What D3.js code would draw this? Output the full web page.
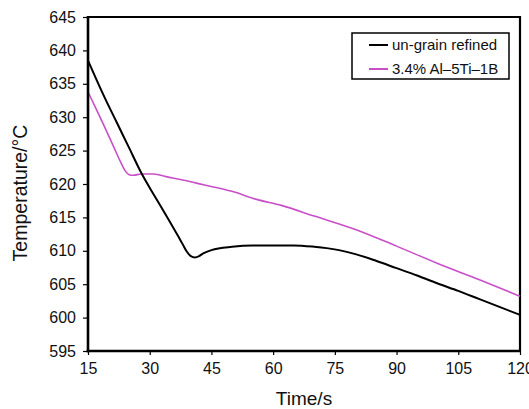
<!DOCTYPE html>
<html>
<head>
<meta charset="utf-8">
<script src="https://cdn.jsdelivr.net/npm/d3@7"></script>
<style>
  html, body { margin: 0; padding: 0; background: #fff; }
  svg { display: block; font-family: "Liberation Sans", Arial, Helvetica, sans-serif; }
</style>
</head>
<body>
<svg id="chart" width="529" height="409"></svg>
<script>
// ---- data ----
const seriesNames = ["un-grain refined", "3.4% Al\u20135Ti\u20131B"];
const blackTime = [15,17,19,22,25,28,31,34,37,38,39,40,41,42,43,45,50,55,60,65,70,73,76,80,85,90,95,100,105,110,115,120];
const blackTemp = [638.5,635.7,633.0,629.2,625.4,621.6,618.4,615.3,612.1,611.0,609.9,609.2,609.0,609.2,609.6,610.1,610.6,610.8,610.8,610.8,610.6,610.4,610.1,609.5,608.5,607.4,606.3,605.1,604.0,602.8,601.6,600.4];
const pinkTime = [15,17,19,21,23,24,25,26,28,31,34,38,43,50,56,62,70,80,90,100,110,120];
const pinkTemp = [633.8,631.2,628.6,625.9,623.2,622.0,621.4,621.3,621.5,621.5,621.1,620.6,619.9,618.9,617.7,616.8,615.2,613.2,610.7,608.1,605.7,603.2];
const xTicks = [15,30,45,60,75,90,105,120];
const yTicks = [595,600,605,610,615,620,625,630,635,640,645];
const xTitle = "Time/s";
const yTitle = "Temperature/\u00B0C";

// ---- layout ----
const svg = d3.select("#chart");
const L = 88, R = 520, T = 17, B = 351;
const x = d3.scaleLinear().domain([15,120]).range([L,R]);
const y = d3.scaleLinear().domain([595,645]).range([B,T]);

// frame (top & right)
svg.append("line").attr("x1",L).attr("x2",R).attr("y1",T).attr("y2",T)
  .attr("stroke","#000").attr("stroke-width",2);
svg.append("line").attr("x1",R).attr("x2",R).attr("y1",T-1).attr("y2",B)
  .attr("stroke","#000").attr("stroke-width",2.2);

// lines
const line = d3.line().x(d=>x(d[0])).y(d=>y(d[1])).curve(d3.curveMonotoneX);
const blackData = blackTime.map((t,i)=>[t,blackTemp[i]]);
const pinkData = pinkTime.map((t,i)=>[t,pinkTemp[i]]);
svg.append("path").datum(pinkData).attr("d",line).attr("fill","none")
  .attr("stroke","#c94fc9").attr("stroke-width",1.6);
svg.append("path").datum(blackData).attr("d",line).attr("fill","none")
  .attr("stroke","#000").attr("stroke-width",2);

// axes
const xAxis = svg.append("g").attr("transform",`translate(0,${B})`)
  .call(d3.axisBottom(x).tickValues(xTicks).tickSize(4).tickPadding(8).tickFormat(d3.format("d")));
const yAxis = svg.append("g").attr("transform",`translate(${L},0)`)
  .call(d3.axisLeft(y).tickValues(yTicks).tickSize(5).tickPadding(7).tickFormat(d3.format("d")));
[xAxis,yAxis].forEach(a=>{
  a.select(".domain").attr("stroke","#000").attr("stroke-width",2.6);
  a.selectAll(".tick line").attr("stroke","#000").attr("stroke-width",1.2);
  a.selectAll(".tick text").attr("fill","#111").style("font-size","16px")
    .style("font-family",'"Liberation Sans", Arial, sans-serif');
});
// strip outer tick parts of domain
xAxis.select(".domain").attr("d",`M${L-1.3},0H${R+1}`);
yAxis.select(".domain").attr("d",`M0,${B+1.3}V${T-1}`);

// titles
svg.append("text").attr("x",(L+R)/2).attr("y",405).attr("text-anchor","middle")
  .style("font-size","19px").attr("fill","#111").text(xTitle);
svg.append("text").attr("transform","translate(27,193) rotate(-90)").attr("text-anchor","middle")
  .style("font-size","19.5px").attr("fill","#111").text(yTitle);

// legend
const lg = svg.append("g");
lg.append("rect").attr("x",352).attr("y",33).attr("width",157).attr("height",46)
  .attr("fill","#fff").attr("stroke","#000").attr("stroke-width",1.5);
const colors = ["#000","#c94fc9"];
seriesNames.forEach((n,i)=>{
  const yy = 45 + i*24;
  lg.append("line").attr("x1",369).attr("x2",388).attr("y1",yy).attr("y2",yy)
    .attr("stroke",colors[i]).attr("stroke-width",2);
  lg.append("text").attr("x",392).attr("y",yy).attr("dy","0.35em")
    .style("font-size","15px").attr("fill","#111").text(n);
});
</script>
</body>
</html>
